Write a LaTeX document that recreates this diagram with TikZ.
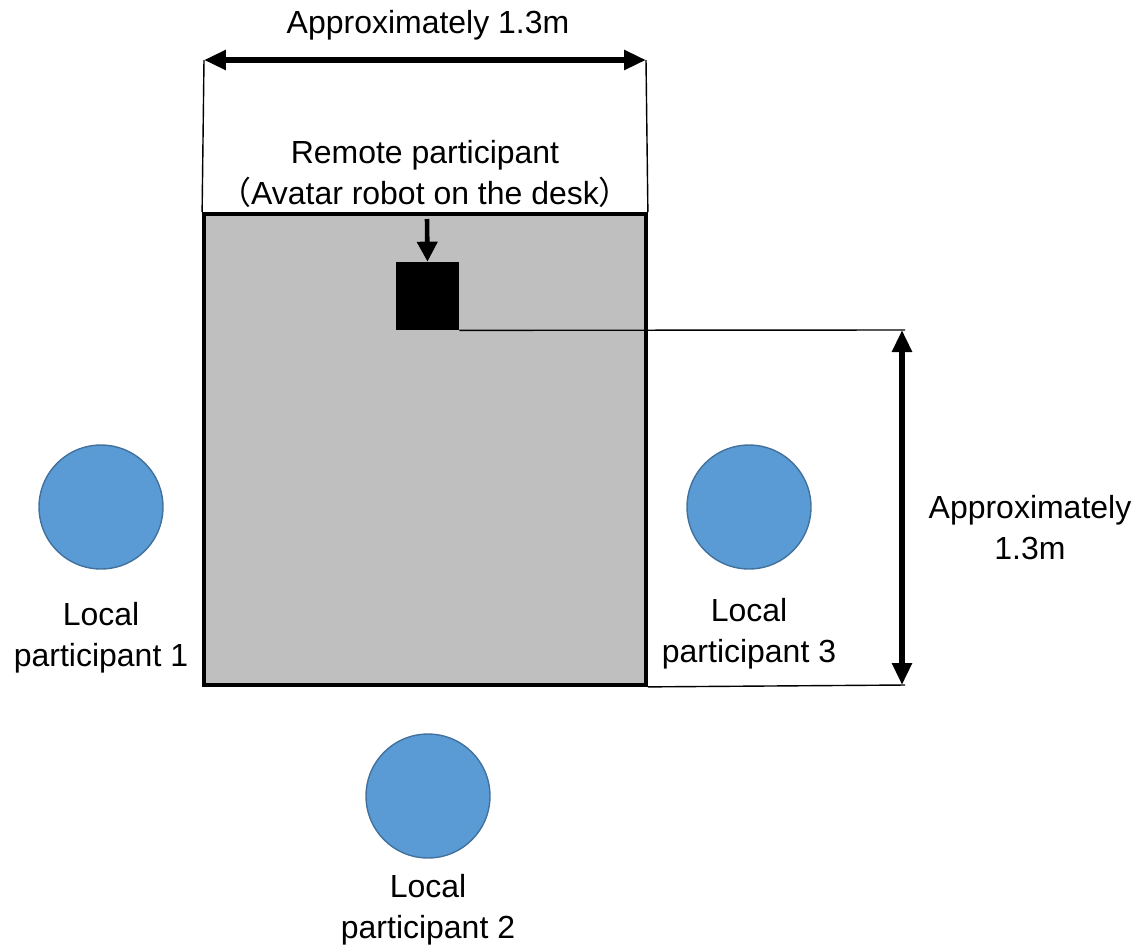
\documentclass[tikz,border=0pt]{standalone}
\usepackage{fontspec}
\setmainfont{Liberation Sans}
\newfontfamily\cjk{Noto Sans CJK SC}
\usetikzlibrary{arrows.meta}
\definecolor{deskgray}{HTML}{BFBFBF}
\definecolor{personblue}{HTML}{5B9BD5}
\definecolor{personedge}{HTML}{41719C}

\begin{document}
\begin{tikzpicture}[x=0.02cm,y=-0.02cm,
  font=\fontsize{18.2}{23.3}\selectfont,
  person/.style={circle,fill=personblue,draw=personedge,line width=0.8pt,minimum size=2.48cm,inner sep=0pt},
  dimarrow/.style={line width=3.2pt,{Triangle[length=0.44cm,width=0.38cm]}-{Triangle[length=0.44cm,width=0.38cm]}},
  thinline/.style={black,line width=0.8pt}]

\useasboundingbox (0,0) rectangle (1139,944);

% desk and robot
\node[draw=black,line width=2.2pt,fill=deskgray,minimum width=8.84cm,minimum height=9.42cm,inner sep=0pt] (desk) at (425,449.5) {};
\node[fill=black,minimum width=1.26cm,minimum height=1.36cm,inner sep=0pt] (robot) at (427.5,296) {};

\coordinate (R) at (427,219);
\draw[black,line width=2.6pt,-{Triangle[length=0.4cm,width=0.4cm]}] (R)--(robot.north);

\node[align=center] (remote) at (425,174) {Remote participant\\{\cjk （}Avatar robot on the desk{\cjk ）}};

% width of the desk
\coordinate (TL) at (204,60);
\coordinate (TR) at (646,60);
\draw[thinline] (TL)--(desk.north west);
\draw[thinline] (TR)--(desk.north east);
\draw[dimarrow] (TL)--(TR);
\node (width) at (428,25) {Approximately 1.3m};

% distance robot to edge
\coordinate (RT) at (905,330);
\coordinate (RB) at (905,685);
\draw[thinline] (robot.south east)--(RT);
\draw[thinline] (desk.south east)--(RB);
\draw[dimarrow] ([xshift=-0.06cm]RT)--([xshift=-0.06cm]RB);
\node[align=center] (depth) at (1030,528) {Approximately\\1.3m};

% local participants
\node[person] (p1) at (101,507) {};
\node[person] (p3) at (749,507) {};
\node[person] (p2) at (428,796) {};

\node[align=center] (l1) at (101,638) {Local\\participant 1};
\node[align=center] (l3) at (749,634) {Local\\participant 3};
\node[align=center] (l2) at (428,910) {Local\\participant 2};

\end{tikzpicture}
\end{document}
